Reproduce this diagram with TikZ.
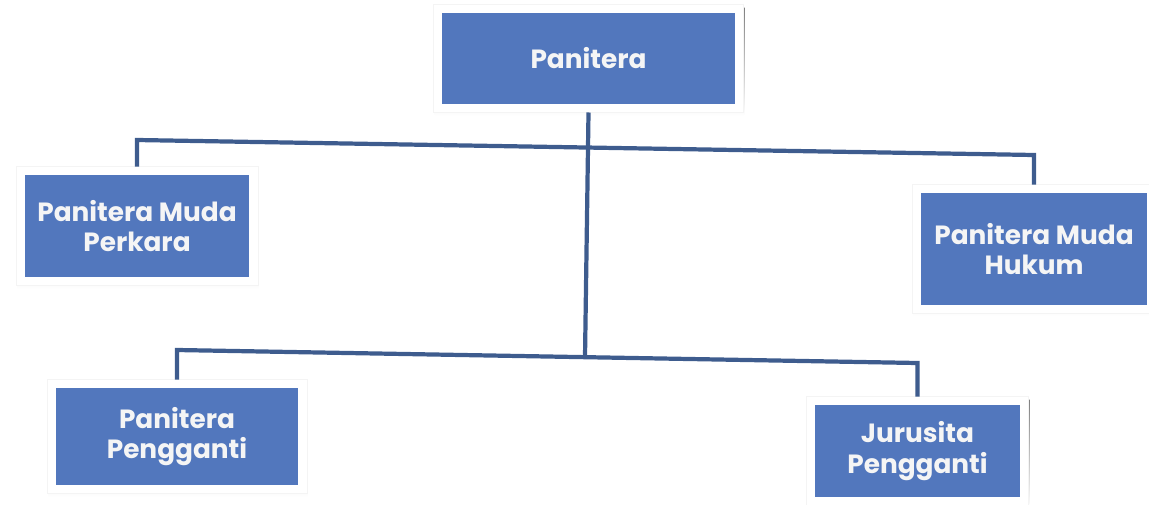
\documentclass[tikz,border=0pt]{standalone}
\usepackage{fontspec}
\setmainfont{Poppins}
\usetikzlibrary{backgrounds}
\definecolor{boxblue}{RGB}{82,119,189}
\definecolor{linkblue}{RGB}{62,92,142}
\definecolor{shade}{RGB}{228,228,228}
\begin{document}
\begin{tikzpicture}[x=0.02cm,y=-0.02cm,
  orgbox/.style={rectangle, fill=boxblue, text=white!96!black, inner sep=0pt,
    align=center, font=\bfseries\fontsize{15}{17.5}\selectfont, outer sep=0.17cm},
  link/.style={draw=linkblue, line width=2.4pt}]
\useasboundingbox (0,0) rectangle (1149,504);
\node[orgbox, minimum width=5.86cm, minimum height=1.82cm, font=\bfseries\fontsize{15}{18}\selectfont] (top) at (588.5,58.5) {Panitera};
\node[orgbox, minimum width=4.5cm, minimum height=2.04cm] (pmp) at (137,226) {Panitera Muda\\Perkara};
\node[orgbox, minimum width=4.52cm, minimum height=2.24cm] (pmh) at (1034,249) {Panitera Muda\\Hukum};
\node[orgbox, minimum width=4.86cm, minimum height=1.94cm] (pp) at (177,436.5) {Panitera\\Pengganti};
\node[orgbox, minimum width=4.1cm, minimum height=1.84cm] (jp) at (917.5,451) {Jurusita\\Pengganti};
\begin{scope}[on background layer]
\foreach \n in {top,pmp,pmh,pp,jp}{
  \fill[shade] ([shift={(1,3)}]\n.south west) rectangle ([shift={(1,3)}]\n.north east);
  \fill[white, draw=shade!40, line width=0.4pt] (\n.south west) rectangle (\n.north east);
}
\end{scope}
\coordinate (hL) at (pmp.north |- {(0,140)});
\coordinate (hR) at (pmh.north |- {(0,155)});
\coordinate (lL) at (pp.north |- {(0,350)});
\coordinate (lR) at (jp.north |- {(0,363)});
\coordinate (lT) at (585,357);
\draw[link] (top.south) -- (lT);
\draw[link] (pmp.north) -- (hL) -- (hR) -- (pmh.north);
\draw[link] (pp.north) -- (lL) -- (lR) -- (jp.north);
\end{tikzpicture}
\end{document}
